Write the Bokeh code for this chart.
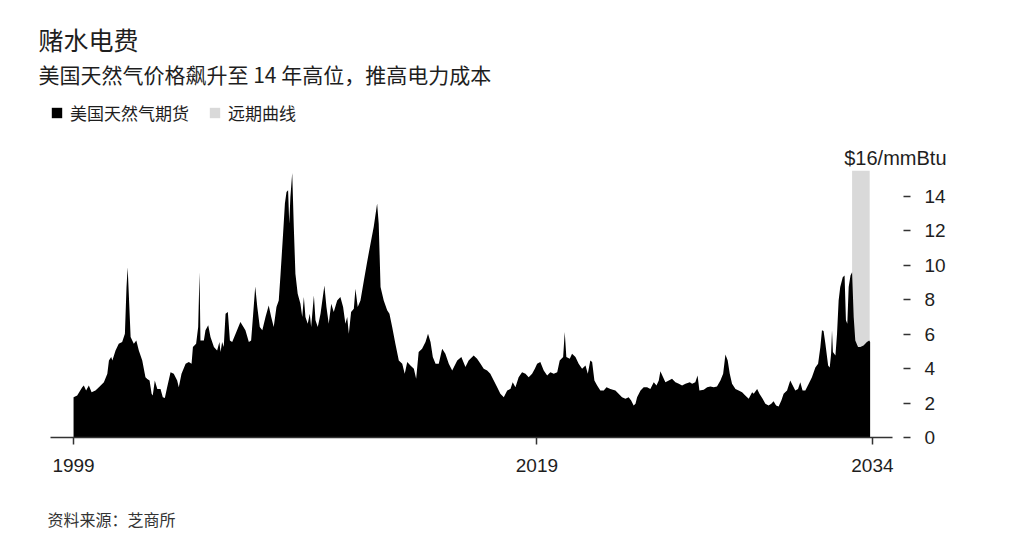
from bokeh.plotting import figure
from bokeh.models import (FixedTicker, Title, Legend, LegendItem, Range1d)
from bokeh.layouts import column
from bokeh.embed import file_html
from bokeh.resources import INLINE

# ---------------- data (decimal year, $/mmBtu) ----------------
seg_a = [(1999.00, 2.34), (1999.16, 2.44), (1999.38, 2.92), (1999.45, 3.02), (1999.55, 2.73),
         (1999.67, 3.02), (1999.79, 2.63), (1999.96, 2.73), (2000.11, 2.92), (2000.33, 3.21),
         (2000.48, 3.70), (2000.55, 4.47), (2000.65, 4.67), (2000.70, 4.47), (2000.84, 5.05),
         (2000.98, 5.44), (2001.13, 5.54), (2001.25, 6.02), (2001.32, 8.73), (2001.37, 9.89),
         (2001.42, 8.35), (2001.50, 5.83), (2001.64, 5.44), (2001.75, 5.63), (2001.86, 5.05),
         (2002.01, 4.47), (2002.15, 3.50), (2002.23, 3.40), (2002.33, 3.31), (2002.42, 2.54),
         (2002.47, 2.44), (2002.56, 3.31), (2002.67, 2.82), (2002.81, 2.82), (2002.91, 2.34),
         (2003.00, 2.30), (2003.10, 2.92), (2003.25, 3.79), (2003.39, 3.70), (2003.54, 3.31),
         (2003.61, 2.92), (2003.73, 3.70), (2003.91, 4.28), (2004.05, 4.38), (2004.17, 4.28),
         (2004.23, 5.25), (2004.37, 5.44), (2004.46, 6.41), (2004.52, 9.60), (2004.56, 5.63),
         (2004.71, 5.63), (2004.78, 6.22), (2004.90, 6.51), (2005.00, 5.83), (2005.15, 5.25),
         (2005.29, 5.05), (2005.39, 5.54)]

seg_b = [(2005.44, 4.96), (2005.51, 5.54), (2005.58, 5.25), (2005.66, 7.19), (2005.76, 7.28),
         (2005.85, 5.63), (2005.95, 5.54), (2006.10, 6.02), (2006.31, 6.70), (2006.53, 6.22),
         (2006.68, 5.54), (2006.78, 5.63), (2006.87, 7.19), (2006.96, 8.77), (2007.05, 7.57),
         (2007.16, 6.41), (2007.27, 6.22), (2007.41, 6.99), (2007.55, 7.67), (2007.66, 6.99),
         (2007.77, 6.41), (2007.89, 7.57), (2007.99, 7.96), (2008.07, 9.51), (2008.18, 11.83),
         (2008.26, 13.58), (2008.33, 14.25), (2008.40, 14.35), (2008.45, 12.41), (2008.50, 13.96),
         (2008.58, 15.35), (2008.65, 12.22), (2008.72, 9.51), (2008.82, 8.35), (2008.94, 7.77),
         (2009.02, 6.99), (2009.09, 8.15), (2009.16, 6.99), (2009.26, 6.60), (2009.35, 7.19),
         (2009.41, 6.41), (2009.53, 8.25), (2009.60, 6.80), (2009.70, 6.41), (2009.82, 7.19),
         (2009.99, 8.83), (2010.08, 7.57), (2010.18, 6.60), (2010.29, 7.77), (2010.40, 7.28),
         (2010.55, 7.96), (2010.69, 8.15), (2010.81, 7.57), (2010.91, 6.60), (2010.99, 6.99),
         (2011.06, 6.02), (2011.16, 7.28), (2011.28, 7.48), (2011.35, 8.64), (2011.45, 7.57),
         (2011.57, 7.96), (2011.72, 9.12), (2011.86, 10.18), (2012.01, 11.25), (2012.15, 12.22),
         (2012.30, 13.58)]

seg_c = [(2012.37, 12.41), (2012.45, 8.73), (2012.59, 7.96), (2012.74, 7.38), (2012.84, 7.19),
         (2012.96, 6.41), (2013.10, 5.44), (2013.25, 4.47), (2013.40, 4.28), (2013.51, 3.70),
         (2013.62, 4.38), (2013.76, 4.18), (2013.91, 3.99), (2014.01, 3.41), (2014.12, 4.96),
         (2014.27, 5.15), (2014.42, 5.54), (2014.53, 6.02), (2014.64, 5.54), (2014.74, 4.67),
         (2014.86, 4.28), (2015.00, 4.28), (2015.15, 5.15), (2015.29, 4.86), (2015.44, 4.28),
         (2015.59, 3.89), (2015.81, 4.47), (2015.99, 4.67), (2016.17, 4.09), (2016.31, 4.47),
         (2016.53, 4.76), (2016.68, 4.57), (2016.83, 4.28), (2016.97, 3.99), (2017.12, 3.89),
         (2017.26, 3.70), (2017.41, 3.31), (2017.56, 2.92), (2017.70, 2.54), (2017.85, 2.34),
         (2018.00, 2.73), (2018.14, 2.82), (2018.24, 3.21), (2018.36, 2.92), (2018.50, 3.50),
         (2018.65, 3.79), (2018.80, 3.70), (2018.94, 3.50), (2019.09, 3.70), (2019.21, 3.99)]

seg_d = [(2019.31, 4.28), (2019.45, 4.38), (2019.60, 3.89), (2019.75, 3.60), (2019.89, 3.79),
         (2020.04, 3.70), (2020.19, 3.79), (2020.30, 4.47), (2020.45, 4.67), (2020.52, 6.12),
         (2020.59, 4.67), (2020.74, 4.57), (2020.84, 4.86), (2020.99, 4.67), (2021.13, 4.28),
         (2021.28, 3.99), (2021.43, 4.18), (2021.53, 3.70), (2021.64, 4.47), (2021.72, 4.38),
         (2021.82, 3.31), (2021.94, 3.02), (2022.08, 2.73), (2022.23, 2.73), (2022.35, 2.92),
         (2022.52, 2.82), (2022.74, 2.73), (2022.88, 2.54), (2023.03, 2.34), (2023.18, 2.25),
         (2023.32, 2.34), (2023.43, 2.15), (2023.54, 1.86), (2023.62, 1.96), (2023.69, 2.34),
         (2023.84, 2.73), (2023.98, 2.92), (2024.13, 2.92), (2024.27, 2.82), (2024.42, 3.21),
         (2024.54, 3.02), (2024.64, 3.31), (2024.71, 3.85), (2024.83, 3.50), (2024.93, 3.21),
         (2025.08, 3.31), (2025.22, 3.41), (2025.37, 3.21), (2025.52, 3.12), (2025.66, 3.02),
         (2025.81, 3.12), (2026.00, 3.21)]

seg_e = [(2026.10, 3.12), (2026.24, 3.21), (2026.34, 3.60), (2026.42, 2.73), (2026.61, 2.77),
         (2026.76, 2.92), (2026.90, 2.96), (2027.05, 2.92), (2027.19, 2.96), (2027.34, 3.31),
         (2027.46, 3.70), (2027.56, 4.82), (2027.66, 4.47), (2027.75, 3.70), (2027.85, 3.12),
         (2028.00, 2.82), (2028.14, 2.73), (2028.29, 2.63), (2028.43, 2.44), (2028.58, 2.25),
         (2028.73, 2.63), (2028.80, 2.54), (2028.95, 2.82), (2029.05, 2.54), (2029.19, 2.25),
         (2029.31, 1.96), (2029.45, 1.86), (2029.57, 1.96), (2029.67, 2.11), (2029.78, 1.86),
         (2029.89, 1.80), (2030.01, 2.15), (2030.11, 2.54), (2030.26, 2.73), (2030.40, 3.31),
         (2030.51, 3.02), (2030.62, 2.73), (2030.74, 2.82), (2030.84, 3.21), (2030.94, 2.73),
         (2031.06, 2.73), (2031.21, 3.12), (2031.35, 3.50), (2031.50, 4.07), (2031.62, 4.28),
         (2031.72, 5.25), (2031.79, 6.22), (2031.86, 6.18), (2031.94, 5.44), (2032.06, 4.18),
         (2032.13, 4.07), (2032.19, 4.86), (2032.23, 6.22), (2032.27, 4.96), (2032.38, 4.76),
         (2032.45, 6.02), (2032.52, 7.96), (2032.59, 8.73), (2032.70, 9.31), (2032.78, 9.41),
         (2032.84, 6.80), (2032.90, 6.60), (2032.96, 8.73), (2033.04, 9.41), (2033.11, 9.60),
         (2033.18, 6.99), (2033.25, 5.63), (2033.37, 5.25), (2033.47, 5.25), (2033.61, 5.34),
         (2033.76, 5.54), (2033.86, 5.63), (2033.90, 5.54)]

forward_start = [2033.11]
forward_end = [2033.88]
forward_top = [15.5]

x_ticks = [1999, 2019.3, 2034]
x_tick_labels = ["1999", "2019", "2034"]
y_ticks = [0, 2, 4, 6, 8, 10, 12, 14]
y_tick_labels = ["0", "2", "4", "6", "8", "10", "12", "14"]
unit_label = "$16/mmBtu"

title_text = "赌水电费"
subtitle_text = "美国天然气价格飙升至 14 年高位，推高电力成本"
series_names = ["美国天然气期货", "远期曲线"]
source_text = "资料来源：芝商所"

# ---------------- build ----------------
points = seg_a + seg_b + seg_c + seg_d + seg_e
dates = [d for d, _ in points]
prices = [v for _, v in points]

CJK = "Noto Sans CJK SC"
LAT = "Liberation Sans"
INK = "#1e1e1e"
AREA_COLOR = "#000000"
FWD_COLOR = "#d9d9d9"

FRAME_W = 842
BORDER_L, BORDER_R = 50, 124

# ---------- header: title, subtitle, legend ----------
head = figure(frame_width=FRAME_W, frame_height=37,
              x_range=Range1d(0, 1), y_range=Range1d(0, 1),
              x_axis_type=None, y_axis_type=None, title=None,
              output_backend="svg", toolbar_location=None,
              min_border_left=BORDER_L, min_border_right=BORDER_R,
              min_border_top=88, min_border_bottom=16,
              background_fill_color="white", border_fill_color="white",
              outline_line_color=None)
# key renderers (same series, outside the header's visible range)
key_area = head.varea(x=dates, y1=[0] * len(dates), y2=prices, fill_color=AREA_COLOR)
key_band = head.quad(left=forward_start, right=forward_end, bottom=[0], top=forward_top,
                     fill_color=FWD_COLOR, line_color=None)

head.add_layout(Title(text=subtitle_text, align="left", offset=-12, standoff=0,
                      text_font=CJK, text_font_size="21px", text_font_style="normal",
                      text_color=INK), "above")
head.add_layout(Title(text=title_text, align="left", offset=-12, standoff=0,
                      text_font=CJK, text_font_size="25px", text_font_style="normal",
                      text_color=INK), "above")

legend = Legend(items=[LegendItem(label=series_names[0], renderers=[key_area]),
                       LegendItem(label=series_names[1], renderers=[key_band])],
                orientation="horizontal", location="bottom_left",
                glyph_width=13, glyph_height=13, label_standoff=7, spacing=19,
                padding=0, margin=0, border_line_color=None, background_fill_alpha=0,
                label_text_font=CJK, label_text_font_size="17px", label_text_color=INK,
                label_height=13)
head.add_layout(legend, "center")

# ---------- main chart ----------
p = figure(frame_width=FRAME_W, frame_height=267,
           x_range=Range1d(1997.99, 2034.88), y_range=Range1d(0, forward_top[0]),
           y_axis_location="right", title=None,
           output_backend="svg", toolbar_location=None,
           min_border_left=BORDER_L, min_border_right=BORDER_R,
           min_border_top=29, min_border_bottom=0,
           background_fill_color="white", border_fill_color="white",
           outline_line_color=None)

band = p.quad(left=forward_start, right=forward_end, bottom=[0], top=forward_top,
              fill_color=FWD_COLOR, line_color=None)
area = p.varea(x=dates, y1=[0] * len(dates), y2=prices, fill_color=AREA_COLOR)

p.xgrid.visible = False
p.ygrid.visible = False

p.add_layout(Title(text=unit_label, align="right", offset=-54, standoff=4,
                   text_font=LAT, text_font_size="20px", text_font_style="normal",
                   text_color=INK), "above")

xa = p.xaxis[0]
xa.ticker = FixedTicker(ticks=x_ticks)
xa.major_label_overrides = dict(zip(x_ticks, x_tick_labels))
xa.axis_line_color = "#333333"
xa.axis_line_width = 1.5
xa.major_tick_line_color = "#333333"
xa.major_tick_line_width = 1.5
xa.major_tick_in = 0
xa.major_tick_out = 7
xa.minor_tick_line_color = None
xa.major_label_standoff = 14
xa.major_label_text_font = LAT
xa.major_label_text_font_size = "19px"
xa.major_label_text_color = INK

ya = p.yaxis[0]
ya.ticker = FixedTicker(ticks=y_ticks)
ya.major_label_overrides = dict(zip(y_ticks, y_tick_labels))
ya.axis_line_color = None
ya.major_tick_line_color = "#333333"
ya.major_tick_line_width = 1.5
ya.major_tick_line_dash = "7 11"
ya.major_tick_in = 0
ya.major_tick_out = 18
ya.minor_tick_line_color = None
ya.major_label_standoff = 14
ya.major_label_text_font = LAT
ya.major_label_text_font_size = "19px"
ya.major_label_text_color = INK

# source line under the chart
p.add_layout(Title(text=source_text, align="left", offset=-3, standoff=60,
                   text_font=CJK, text_font_size="16px", text_font_style="normal",
                   text_color="#333333"), "below")

layout = column(head, p, spacing=0)
open("out.html", "w").write(file_html(layout, INLINE))
